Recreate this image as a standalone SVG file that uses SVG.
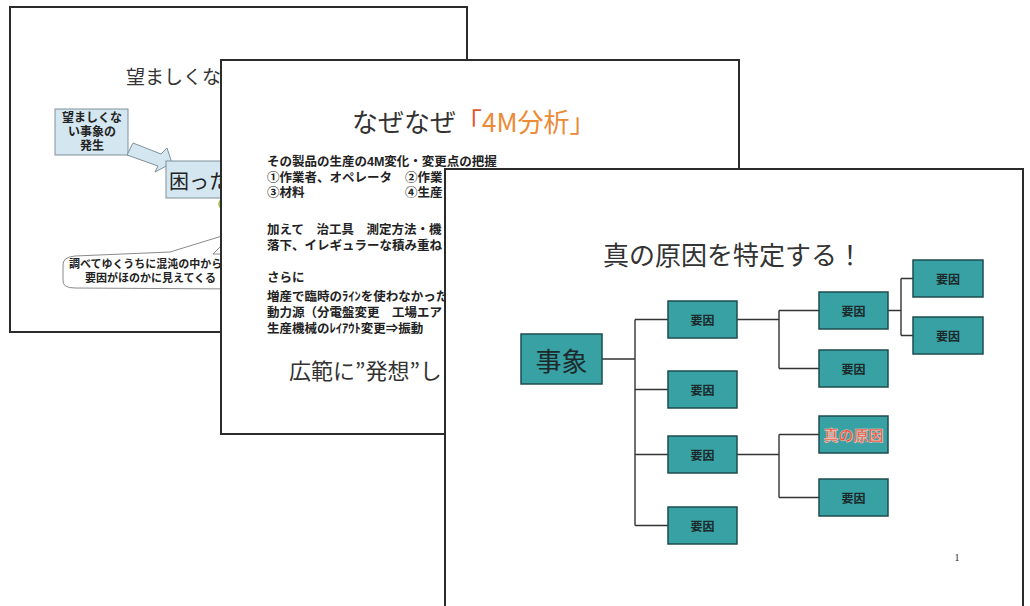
<svg xmlns="http://www.w3.org/2000/svg" width="1030" height="606" viewBox="0 0 1030 606">
<defs>
<style>
.slide{fill:#ffffff;stroke:#2b2b2b;stroke-width:2}
.jp{font-family:"Noto Sans CJK JP","Noto Sans CJK SC",sans-serif;dominant-baseline:central}
.jb{font-family:"Liberation Sans","Noto Sans CJK JP","Noto Sans CJK SC",sans-serif;dominant-baseline:central;font-weight:bold;fill:#222222}
.ttl{fill:#333333}
.lb{fill:#d4e7f0;stroke:#7f919c;stroke-width:1}
.node{fill:#38a1a4;stroke:#1e4c4f;stroke-width:1.5}
.nt{font-family:"Noto Sans CJK JP","Noto Sans CJK SC",sans-serif;font-weight:bold;fill:#1c2a2b;font-size:12px;text-anchor:middle;dominant-baseline:central}
.con{fill:none;stroke:#333333;stroke-width:1.4}
</style>
</defs>
<rect width="1030" height="606" fill="#ffffff"/>

<g id="slide1">
<rect class="slide" x="10" y="7" width="457" height="325"/>
<text class="jp ttl" x="126" y="75" font-size="19">望ましくない</text>
<g id="box-hassei">
<rect class="lb" x="55" y="109" width="73" height="46"/>
<text class="jb" font-size="12" text-anchor="middle"><tspan x="92" y="118">望ましくな</tspan><tspan x="92" y="132">い事象の</tspan><tspan x="92" y="146">発生</tspan></text>
</g>
<polygon class="lb" points="133,143 161,154 167,148 172,163 155,172 158,166 127,155"/>
<g id="box-komatta">
<rect class="lb" x="166" y="161" width="70" height="37"/>
<text class="jp" x="169" y="180" font-size="20" fill="#222">困った</text>
</g>
<ellipse cx="234" cy="204" rx="15" ry="8" fill="#eef6d6" stroke="#9cc23a" stroke-width="1.5"/>
<g id="callout">
<path d="M63,266 Q62,257 75,256 L170,252 L235,232 L213,254 L240,254 L240,289 L75,288 Q62,288 63,280 Z" fill="#ffffff" stroke="#8a8a8a" stroke-width="1"/>
<text class="jb" font-size="11"><tspan x="69" y="264">調べてゆくうちに混沌の中から</tspan><tspan x="85" y="278">要因がほのかに見えてくる</tspan></text>
</g>
</g>

<g id="slide2">
<rect class="slide" x="221" y="60" width="518" height="374"/>
<text class="jp" x="352" y="120" font-size="26"><tspan fill="#333333">なぜなぜ</tspan><tspan fill="#e2572b">「</tspan><tspan fill="#ec8a35">4M分析」</tspan></text>
<g class="jb" font-size="12.5">
<text x="267" y="162">その製品の生産の4M変化・変更点の把握</text>
<text x="267" y="177.5">①作業者、オペレータ</text>
<text x="405" y="177.5">②作業</text>
<text x="267" y="193">③材料</text>
<text x="405" y="193">④生産</text>
<text x="267" y="230">加えて　治工具　測定方法・機</text>
<text x="267" y="245.5">落下、イレギュラーな積み重ね</text>
<text x="267" y="277.5">さらに</text>
<text x="267" y="296.5">増産で臨時のﾗｲﾝを使わなかった</text>
<text x="267" y="312.5">動力源（分電盤変更　工場エア</text>
<text x="267" y="329">生産機械のﾚｲｱｳﾄ変更⇒振動</text>
</g>
<text class="jp ttl" x="289" y="369" font-size="22">広範に”発想”し</text>
</g>

<g id="slide3">
<rect class="slide" x="445" y="169" width="578" height="460"/>
<text class="jp ttl" x="603" y="253" font-size="26">真の原因を特定する！</text>
<text x="957" y="557" font-family="Liberation Serif, serif" font-size="10" fill="#222" text-anchor="middle" dominant-baseline="central">1</text>

<g id="connectors">
<path class="con" d="M602,359 H635 M635,319.5 V525.5 M635,319.5 H668 M635,389.5 H668 M635,454.5 H668 M635,525.5 H668"/>
<path class="con" d="M737,319.5 H779 M779,310.5 V368.5 M779,310.5 H819 M779,368.5 H819"/>
<path class="con" d="M737,454.5 H779 M779,434.5 V497.5 M779,434.5 H819 M779,497.5 H819"/>
<path class="con" d="M888,310.5 H901 M901,278.5 V335.5 M901,278.5 H913 M901,335.5 H913"/>
</g>

<g id="n-jisho"><rect class="node" x="521" y="334" width="81" height="50"/><text class="jp" x="561.5" y="359" font-size="26" text-anchor="middle" fill="#1c2a2b">事象</text></g>
<g id="n-a1"><rect class="node" x="668" y="301" width="69" height="37"/><text class="nt" x="702.5" y="319.5">要因</text></g>
<g id="n-a2"><rect class="node" x="668" y="371" width="69" height="37"/><text class="nt" x="702.5" y="389.5">要因</text></g>
<g id="n-a3"><rect class="node" x="668" y="436" width="69" height="37"/><text class="nt" x="702.5" y="454.5">要因</text></g>
<g id="n-a4"><rect class="node" x="668" y="507" width="69" height="37"/><text class="nt" x="702.5" y="525.5">要因</text></g>
<g id="n-b1"><rect class="node" x="819" y="292" width="69" height="37"/><text class="nt" x="853.5" y="310.5">要因</text></g>
<g id="n-b2"><rect class="node" x="819" y="350" width="69" height="37"/><text class="nt" x="853.5" y="368.5">要因</text></g>
<g id="n-b3"><rect class="node" x="819" y="416" width="69" height="37"/><text class="jp" x="853.5" y="434.5" font-size="15" font-weight="bold" text-anchor="middle" fill="#e8533c" stroke="#f3d0c8" stroke-width="0.5">真の原因</text></g>
<g id="n-b4"><rect class="node" x="819" y="479" width="69" height="37"/><text class="nt" x="853.5" y="497.5">要因</text></g>
<g id="n-c1"><rect class="node" x="913" y="260" width="70" height="37"/><text class="nt" x="948" y="278.5">要因</text></g>
<g id="n-c2"><rect class="node" x="913" y="317" width="70" height="37"/><text class="nt" x="948" y="335.5">要因</text></g>
</g>
</svg>
